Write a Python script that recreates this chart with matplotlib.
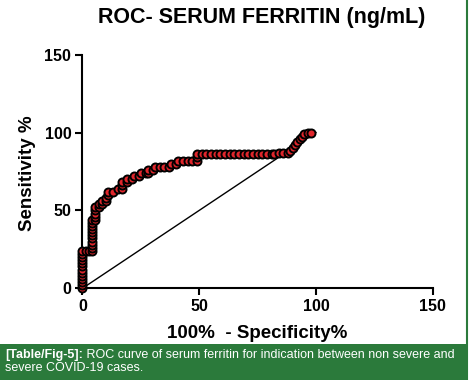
import matplotlib
matplotlib.use("Agg")
import matplotlib.pyplot as plt

plt.rcParams['font.family'] = ['Liberation Sans', 'DejaVu Sans']

title = "ROC- SERUM FERRITIN (ng/mL)"
xlabel = "100%  - Specificity%"
ylabel = "Sensitivity %"
ticks = [0, 50, 100, 150]
caption_bold = "[Table/Fig-5]:"
caption_rest = " ROC curve of serum ferritin for indication between non severe and"
caption_line2 = "severe COVID-19 cases."

# 100% - Specificity% (x) and Sensitivity% (y) of the ROC points
fpr = [0, 0, 0, 0, 0, 0, 0, 0, 0, 0, 0, 0, 0,
       1.5, 3, 4,
       4, 4, 4, 4, 4, 4, 4, 4, 4, 4,
       5.5, 5.5, 5.5, 5.5, 5.5, 7, 7, 8.5, 8.5, 10, 10, 11, 11, 13, 15, 17,
       17, 17, 19, 19, 21, 22, 24, 25, 27, 28, 28, 30, 31, 33, 35, 37, 38,
       40, 41, 43, 45, 47, 49, 49, 49,
       51, 53, 55, 57, 59, 61, 63, 65, 67, 69, 71, 73, 75, 77, 79, 81, 82,
       84, 86, 88, 89, 90, 91, 92, 93, 94, 95, 96.5, 98]
tpr = [0, 2, 4, 6, 8, 10, 12, 14, 16, 18, 20, 22, 24,
       24, 24, 24,
       26, 28, 30, 32, 34, 36, 38, 40, 42, 44,
       44, 46, 48, 50, 52, 52, 54, 54, 56, 56, 58, 60, 62, 62, 64, 64,
       66, 68, 68, 70, 70, 72, 72, 74, 74, 74, 76, 76, 78, 78, 78, 78, 80,
       80, 82, 82, 82, 82, 82, 84, 86,
       86, 86, 86, 86, 86, 86, 86, 86, 86, 86, 86, 86, 86, 86, 86, 86, 86,
       87, 87, 87, 88, 90, 92, 94, 96, 97, 99, 100, 100]
ref_x = [0, 100]
ref_y = [0, 100]

fig = plt.figure(figsize=(4.7, 3.8), dpi=100)
ax = fig.add_axes([0.1755, 0.2413, 0.745, 0.615])

ax.plot(ref_x, ref_y, color='black', lw=1.0, zorder=2)
ax.plot(fpr, tpr, linestyle='none', marker='o', markersize=5.8,
        markerfacecolor='#e0262c', markeredgecolor='black', markeredgewidth=1.4,
        zorder=3, clip_on=False)

ax.set_xlim(0, 150)
ax.set_ylim(0, 150)
ax.set_xticks(ticks)
ax.set_yticks(ticks)
for s in ['top', 'right']:
    ax.spines[s].set_visible(False)
for s in ['left', 'bottom']:
    ax.spines[s].set_linewidth(1.5)
ax.tick_params(direction='out', length=5, width=1.5, labelsize=11.5, pad=3)
for lab in ax.get_xticklabels() + ax.get_yticklabels():
    lab.set_fontweight('bold')

fig.text(262 / 470, 1 - 18 / 380, title, ha='center', va='center',
         fontsize=15.5, fontweight='bold')
fig.text(257 / 470, 1 - 333 / 380, xlabel, ha='center', va='center',
         fontsize=13.5, fontweight='bold')
fig.text(28 / 470, 1 - 173 / 380, ylabel, ha='center', va='center',
         fontsize=13.5, fontweight='bold', rotation=90)

# caption band
green = '#2b7a3b'
fig.patches.append(plt.Rectangle((0, 0), 467 / 470, 36 / 380, transform=fig.transFigure,
                                 facecolor=green, edgecolor='none', zorder=0))
fig.add_artist(plt.Line2D([467 / 470, 467 / 470], [0, 1], transform=fig.transFigure,
                          color=green, lw=1.5))
t1 = fig.text(5 / 470, 1 - 355 / 380, caption_bold, ha='left', va='center',
              fontsize=9, fontweight='bold', color='white')
fig.canvas.draw()
bb = t1.get_window_extent()
fig.text(bb.x1 / 470, 1 - 355 / 380, caption_rest, ha='left', va='center',
         fontsize=9, color='white')
fig.text(5 / 470, 1 - 368 / 380, caption_line2, ha='left', va='center',
         fontsize=9, color='white')

fig.savefig('out.png', dpi=100)
